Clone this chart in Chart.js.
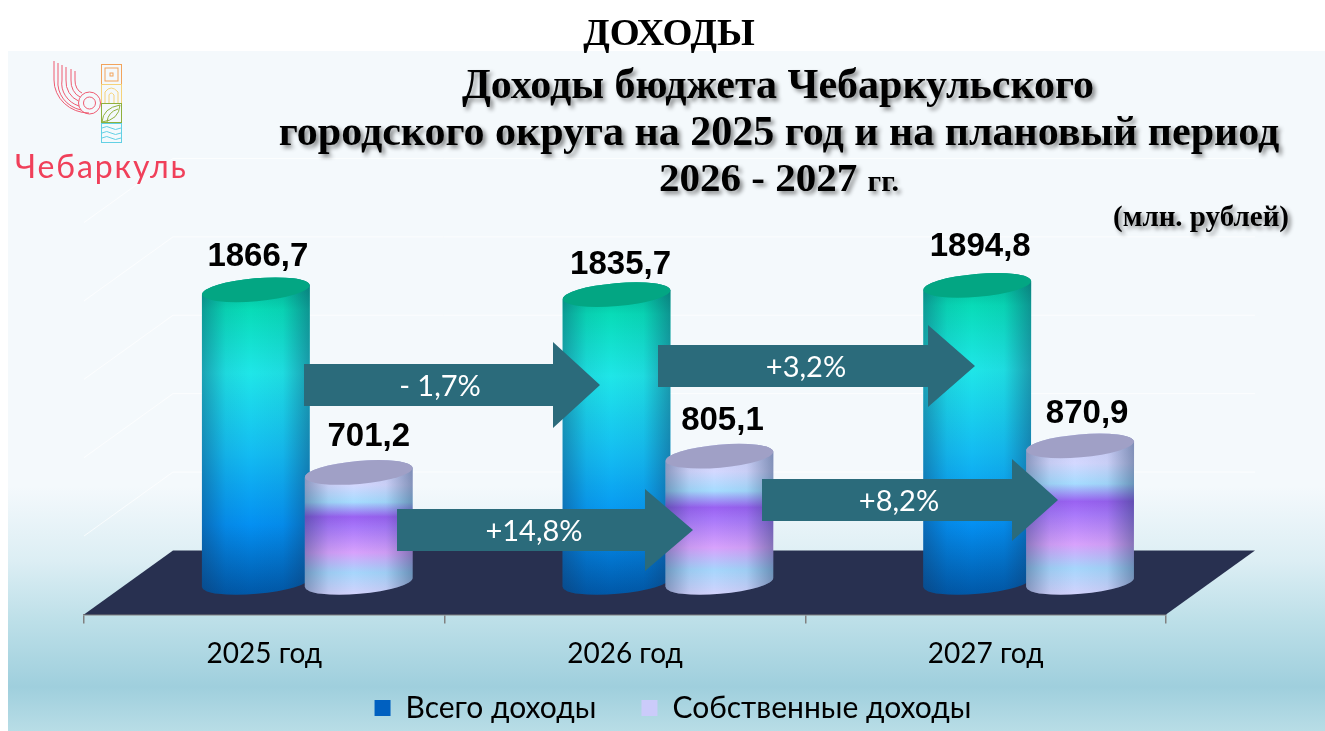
<!DOCTYPE html>
<html lang="ru"><head><meta charset="utf-8">
<script src="https://cdn.jsdelivr.net/npm/chart.js@4"></script>
<style>
html,body{margin:0;padding:0;background:#fff;overflow:hidden}
#wrap{position:relative;width:1325px;height:731px}
canvas{position:absolute;left:0;top:0}
.h{position:absolute;font-family:"Liberation Serif",serif;font-weight:bold;color:#000;white-space:nowrap;text-align:center;transform:translateX(-50%);line-height:1}
.s{text-shadow:3px 3px 4px rgba(0,0,0,.45)}
#logoT{position:absolute;left:15px;top:147px;font-family:Lato,sans-serif;font-weight:400;font-size:32px;letter-spacing:1.9px;color:#f0405a;line-height:1.2;white-space:nowrap}
svg{position:absolute;left:0;top:0}
</style></head>
<body><div id="wrap">
<canvas id="c" width="1325" height="731"></canvas>
<div class="h" style="left:669px;top:13px;font-size:38.500px">ДОХОДЫ</div>
<div class="h s" style="left:778px;top:63px;font-size:42px">Доходы бюджета Чебаркульского</div>
<div class="h s" style="left:779px;top:110px;font-size:42px">городского округа на 2025 год и на плановый период</div>
<div class="h s" style="left:779px;top:157px;font-size:41px">2026 - 2027 <span style="font-size:30px">гг.</span></div>
<div class="h s" style="left:1201px;top:202px;font-size:29px">(млн. рублей)</div>
<svg width="200" height="150" fill="none">
 <g stroke="#ee5a70" stroke-width="1">
  <path d="M54 61V80A35 33 0 0 0 89 113"/><path d="M58 63V80A30 28 0 0 0 81 110"/><path d="M62 65V80A26 24 0 0 0 79 106"/>
  <path d="M66 67V80A20 21 0 0 0 78.500 101"/><path d="M71 69V80A14 17 0 0 0 80 97"/><path d="M75 71V80A10 13 0 0 0 82 93"/>
  <circle cx="89.500" cy="103" r="11"/><circle cx="89.500" cy="103" r="6"/>
 </g>
 <g stroke="#f2a45c" stroke-width="1"><rect x="101.500" y="64.500" width="20" height="20"/><rect x="105" y="68" width="13" height="13"/><rect x="110" y="73" width="3" height="3"/></g>
 <g stroke="#f5d27a" stroke-width="1"><rect x="101.500" y="84.500" width="20" height="19"/><path d="M105 103V92Q111 84 118 92V103M109 103V95Q111 91 114 95V103"/></g>
 <g stroke="#8fb03c" stroke-width="1"><rect x="101.500" y="103.500" width="20" height="19"/><path d="M102 122Q103 108 120 105Q119 120 102 122M107 122Q108 112 118 109"/></g>
 <g stroke="#62d0e4" stroke-width="1"><rect x="101.500" y="123.500" width="20" height="19"/><path d="M102 128Q107 125 111 128T121 128M102 133Q107 130 111 133T121 133M102 138Q107 135 111 138T121 138"/></g>
</svg>
<div id="logoT">Чебаркуль</div>
</div>
<script>
const categories = ['2025 год', '2026 год', '2027 год'];
const totalIncome = [1866.7, 1835.7, 1894.8];
const ownIncome = [701.2, 805.1, 870.9];
const seriesNames = ['Всего доходы', 'Собственные доходы'];
const changeLabels = ['- 1,7%', '+3,2%', '+14,8%', '+8,2%'];

// 3D projection of the floor
const DEPTH_X = 89, DEPTH_Y = 64, BAR_DX = 43;
const fmt = v => v.toFixed(1).replace('.', ',');

function cylinder(ctx, bar, stops, topColor) {
  const dy = DEPTH_Y / 2;
  const cx = bar.x + BAR_DX, top = bar.y - dy, base = bar.base - dy, rx = bar.width / 2, ry = 11.5, rot = -5 * Math.PI / 180;
  const tilt = rx * Math.sin(-rot);
  const path = () => {
    ctx.beginPath();
    ctx.moveTo(cx - rx, top + tilt);
    ctx.lineTo(cx - rx, base + tilt);
    ctx.ellipse(cx, base, rx, ry, rot, Math.PI, 0, true);
    ctx.lineTo(cx + rx, top - tilt);
    ctx.ellipse(cx, top, rx, ry, rot, 0, Math.PI, true);
    ctx.closePath();
  };
  const g = ctx.createLinearGradient(0, top - ry, 0, base + ry);
  stops.forEach(s => g.addColorStop(s[0], s[1]));
  ctx.save();
  path(); ctx.fillStyle = g; ctx.fill();
  const h = ctx.createLinearGradient(cx - rx, 0, cx + rx, 0);
  h.addColorStop(0, 'rgba(20,50,90,.38)');
  h.addColorStop(.22, 'rgba(20,50,90,.08)');
  h.addColorStop(.45, 'rgba(20,50,90,0)');
  h.addColorStop(.75, 'rgba(20,50,90,.06)');
  h.addColorStop(1, 'rgba(20,50,90,.42)');
  path(); ctx.fillStyle = h; ctx.fill();
  ctx.beginPath(); ctx.ellipse(cx, top, rx, ry, rot, 0, Math.PI * 2);
  ctx.fillStyle = topColor; ctx.fill();
  ctx.restore();
}

const greenStops = [[0,'#00b08e'],[.1,'#08dcb8'],[.3,'#1fe6e8'],[.55,'#14bdf2'],[.78,'#0490f2'],[1,'#0058a8']];
const lilacStops = [[0,'#c8cdf8'],[.18,'#d4d8ff'],[.31,'#a6dcff'],[.42,'#9a62f2'],[.5,'#a878fa'],[.69,'#d8a2fc'],[.84,'#a6d6fc'],[1,'#d2d2fc']];

const arrows = [
  {x0:304, x1:553, tip:600, yc:385, half:21, head:43, tx:440, ty:387, i:0},
  {x0:658, x1:928, tip:975, yc:366, half:21, head:41, tx:806, ty:368, i:1},
  {x0:397, x1:645, tip:693, yc:530, half:21, head:41, tx:534, ty:532, i:2},
  {x0:762, x1:1012, tip:1058, yc:500, half:21, head:41, tx:899, ty:502, i:3}
];
const labelNudgeX = [[2,4,3],[10,3,7]];
const labelLift = [[33,30,38],[36,35,32]];

const scene = {
  id: 'scene',
  beforeLayout(chart) {
    const lg = chart.legend;
    if (lg && !lg._wrapped) {
      lg._wrapped = true;
      const fit = lg.fit.bind(lg);
      lg.fit = function () { fit(); this.height = 46; };
    }
  },
  afterLayout(chart) {
    const lg = chart.legend;
    lg.left += 48; lg.right += 48;
    lg.top = 648; lg.bottom = 731;
  },
  beforeDraw(chart) {
    const {ctx, width, height} = chart;
    const g = ctx.createLinearGradient(0, 51, 0, 731);
    g.addColorStop(0, '#f4f9fc'); g.addColorStop(.64, '#f4f9fc');
    g.addColorStop(.75, '#dcEEf4'); g.addColorStop(.84, '#bcdfe8');
    g.addColorStop(.935, '#9fcfdd'); g.addColorStop(1, '#b8dde6');
    ctx.save();
    ctx.fillStyle = '#fff'; ctx.fillRect(0, 0, width, height);
    ctx.fillStyle = g; ctx.fillRect(8, 51, width - 8, 680);
    ctx.restore();
  },
  beforeDatasetsDraw(chart) {
    const {ctx, chartArea: a, scales: {y}} = chart;
    ctx.save();
    // back wall and side wall grid lines
    ctx.strokeStyle = 'rgba(255,255,255,.75)'; ctx.lineWidth = 1;
    y.ticks.forEach(t => {
      if (t.value === 0) return;
      const py = y.getPixelForValue(t.value) - DEPTH_Y;
      ctx.beginPath();
      ctx.moveTo(a.left, py + DEPTH_Y);
      ctx.lineTo(a.left + DEPTH_X, py);
      ctx.lineTo(a.right + DEPTH_X, py);
      ctx.stroke();
    });
    // floor
    ctx.beginPath();
    ctx.moveTo(a.left, a.bottom); ctx.lineTo(a.right, a.bottom);
    ctx.lineTo(a.right + DEPTH_X, a.bottom - DEPTH_Y); ctx.lineTo(a.left + DEPTH_X, a.bottom - DEPTH_Y);
    ctx.closePath(); ctx.fillStyle = '#283050'; ctx.fill();
    ctx.restore();
    chart.getDatasetMeta(0).data.forEach((b, i) => {
      cylinder(ctx, b, greenStops, '#03a683');
      cylinder(ctx, chart.getDatasetMeta(1).data[i], lilacStops, '#a0a0c6');
    });
  },
  beforeDatasetDraw() { return false; },
  afterDatasetsDraw(chart) {
    const {ctx} = chart;
    ctx.save();
    ctx.textAlign = 'center'; ctx.textBaseline = 'middle';
    [0, 1].forEach(d => chart.getDatasetMeta(d).data.forEach((b, i) => {
      const v = chart.data.datasets[d].data[i];
      ctx.font = 'bold 33px "Liberation Sans", Arial, sans-serif';
      ctx.fillStyle = '#000';
      ctx.fillText(fmt(v), b.x + BAR_DX + labelNudgeX[d][i], b.y - DEPTH_Y / 2 - labelLift[d][i]);
    }));
    arrows.forEach(a => {
      ctx.beginPath();
      ctx.moveTo(a.x0, a.yc - a.half); ctx.lineTo(a.x1, a.yc - a.half); ctx.lineTo(a.x1, a.yc - a.head);
      ctx.lineTo(a.tip, a.yc); ctx.lineTo(a.x1, a.yc + a.head); ctx.lineTo(a.x1, a.yc + a.half);
      ctx.lineTo(a.x0, a.yc + a.half); ctx.closePath();
      ctx.fillStyle = '#2b6b7b'; ctx.fill();
      ctx.fillStyle = '#fff';
      ctx.font = '29px Lato, "Open Sans", sans-serif';
      ctx.fillText(changeLabels[a.i], a.tx, a.ty);
    });
    ctx.restore();
  }
};

new Chart(document.getElementById('c'), {
  type: 'bar',
  data: {
    labels: categories,
    datasets: [
      {label: seriesNames[0], data: totalIncome, backgroundColor: '#0060c0', categoryPercentage: .5706, barPercentage: 1.0485},
      {label: seriesNames[1], data: ownIncome, backgroundColor: '#cbcbfa', categoryPercentage: .5706, barPercentage: 1.0485}
    ]
  },
  options: {
    responsive: false,
    animation: false,
    layout: {padding: {left: 84, right: 159, top: 222.5, bottom: 0}},
    plugins: {
      title: {display: false},
      tooltip: {enabled: false},
      legend: {
        position: 'bottom',
        labels: {boxWidth: 16, boxHeight: 16, padding: 45, color: '#000', font: {family: 'Lato, "Open Sans", sans-serif', size: 30}}
      }
    },
    scales: {
      x: {
        grid: {drawOnChartArea: false, drawTicks: true, tickLength: 9, tickColor: '#808080', lineWidth: 1.5},
        border: {display: true, color: '#808080', width: 1.5},
        ticks: {color: '#000', padding: 14, font: {family: 'Lato, "Open Sans", sans-serif', size: 28}}
      },
      y: {display: false, min: 0, max: 2500, ticks: {stepSize: 500}}
    }
  },
  plugins: [scene]
});
</script>
</body></html>
